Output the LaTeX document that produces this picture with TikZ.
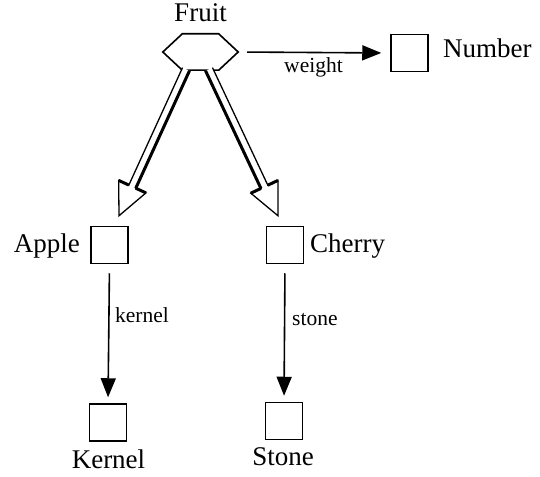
\documentclass[tikz,border=0pt]{standalone}
\usepackage{fontspec}
\setmainfont{Liberation Serif}
\usetikzlibrary{arrows.meta,calc}

\tikzset{
  box/.style={draw, line width=1.5pt, minimum size=37pt, inner sep=0pt},
  bigtext/.style={inner sep=0pt, font=\fontsize{27}{31}\selectfont},
  smalltext/.style={inner sep=0pt, font=\fontsize{21.5}{25}\selectfont},
  conn/.style={line width=1.6pt, -{Triangle[length=19pt, width=15pt]}},
  thinrim/.style={line width=1.3pt, line join=miter},
  thickrim/.style={line width=3pt, line cap=butt},
}

% Hollow inheritance arrow from #1 to the tip #2; #3 (1 or 2) picks the heavy side
\newcommand{\hollowarrow}[3]{%
  \coordinate (s1) at ($(#1)!3.8pt!90:(#2)$);
  \coordinate (s2) at ($(#1)!3.8pt!270:(#2)$);
  \coordinate (n1) at ($(#2)!32pt!(#1)!3.8pt!270:(#1)$);
  \coordinate (n2) at ($(#2)!32pt!(#1)!3.8pt!90:(#1)$);
  \coordinate (c1) at ($(#2)!32pt!(#1)!15pt!270:(#1)$);
  \coordinate (c2) at ($(#2)!32pt!(#1)!15pt!90:(#1)$);
  \fill[white] (s1) -- (n1) -- (c1) -- (#2) -- (c2) -- (n2) -- (s2) -- cycle;
  \draw[thickrim] (s#3) -- (n#3);
  \draw[thickrim] (n1) -- (c1);
  \draw[thickrim] (n2) -- (c2);
  \draw[thinrim] (s1) -- (n1) -- (c1) -- (#2) -- (c2) -- (n2) -- (s2);
}

\begin{document}
\begin{tikzpicture}[x=1pt, y=-1pt]
\useasboundingbox (0,0) rectangle (540,476);

% hexagon-shaped root
\node[minimum width=75pt, minimum height=36pt, inner sep=0pt] (fruit) at (200.5,52) {};
\draw[line width=1.6pt, line join=miter]
  (fruit.west) -- ($(fruit.north west)+(19.5,0)$) -- ($(fruit.north east)+(-19.5,0)$)
  -- (fruit.east) -- ($(fruit.south east)+(-19.5,0)$) -- ($(fruit.south west)+(19.5,0)$) -- cycle;
\node[bigtext, anchor=base] (fruitlabel) at (200.5,22) {Fruit};

% boxes
\node[box] (number) at (409.5,53) {};
\node[box] (apple)  at (109.5,245) {};
\node[box] (cherry) at (285,245) {};
\node[box] (kernel) at (108,422.5) {};
\node[box] (stone)  at (284,421) {};

% names
\node[bigtext, anchor=base west] (numberlabel) at (443,58) {Number};
\node[bigtext, anchor=base east] (applelabel) at (80,252) {Apple};
\node[bigtext, anchor=base west] (cherrylabel) at (310,252) {Cherry};
\node[bigtext, anchor=base] (kernellabel) at (108.5,468) {Kernel};
\node[bigtext, anchor=base] (stonelabel) at (283,465) {Stone};

% attribute links
\draw[conn, shorten <=9pt, shorten >=9pt] (fruit.east) -- (number.west);
\node[smalltext, anchor=base] (weightlabel) at (313.5,73) {weight};

\draw[conn, shorten <=9pt, shorten >=6pt] (apple.south) -- (kernel.north);
\node[smalltext, anchor=base west] (kernellink) at (115,322) {kernel};

\draw[conn, shorten <=9pt, shorten >=6pt] (cherry.south) -- (stone.north);
\node[smalltext, anchor=base west] (stonelink) at (292,325) {stone};

% inheritance links
\coordinate (fruitL) at ($(fruit.south)+(-14.5,-1)$);
\coordinate (fruitR) at ($(fruit.south)+(8.5,-1)$);
\coordinate (appletip) at ($(apple.north)+(9.5,-10)$);
\coordinate (cherrytip) at ($(cherry.north)+(-7,-10)$);
\hollowarrow{fruitL}{appletip}{1}
\hollowarrow{fruitR}{cherrytip}{2}
\end{tikzpicture}
\end{document}
